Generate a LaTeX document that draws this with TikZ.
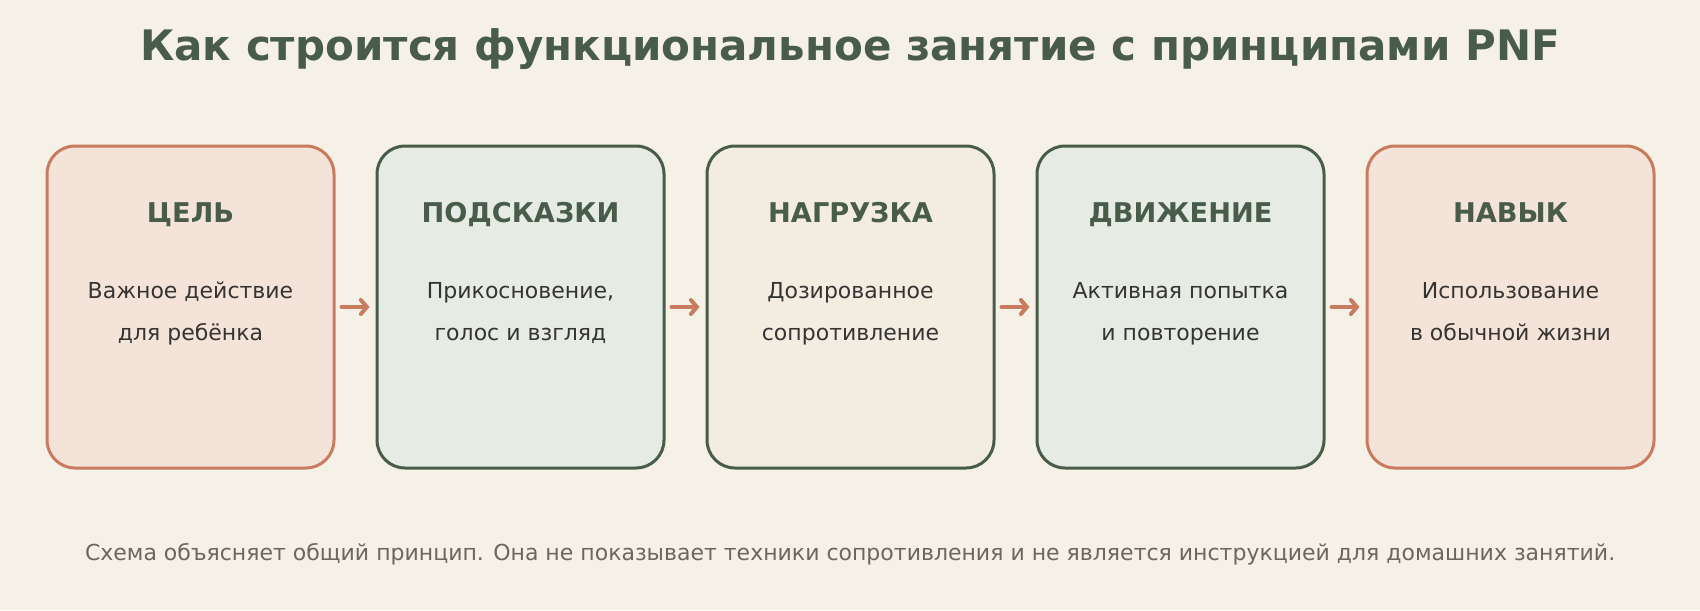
\documentclass[tikz,border=0pt]{standalone}
\usepackage{fontspec}
\setmainfont{DejaVu Sans}
\usepackage{tikz}
\usetikzlibrary{positioning}
\usetikzlibrary{arrows.meta}
\definecolor{bgcol}{HTML}{F6F1E7}
\definecolor{pinkfill}{HTML}{F4E3D8}
\definecolor{greenfill}{HTML}{E6EBE3}
\definecolor{beigefill}{HTML}{F2ECE1}
\definecolor{orangeline}{HTML}{C87B5F}
\definecolor{greenline}{HTML}{485C49}
\definecolor{bodytext}{HTML}{363432}
\definecolor{notetext}{HTML}{6B665F}
\tikzstyle{stepbox}=[rectangle,rounded corners=14pt,line width=1.5pt,minimum width=143.5pt,minimum height=161pt,inner sep=0pt]
\tikzstyle{warmbox}=[stepbox,draw=orangeline,fill=pinkfill]
\tikzstyle{coolbox}=[stepbox,draw=greenline,fill=greenfill]
\tikzstyle{sandbox}=[stepbox,draw=greenline,fill=beigefill]
\tikzstyle{heading} = [anchor=base,font=\fontsize{13.6pt}{16pt}\selectfont\bfseries,text=greenline]
\tikzstyle{bodyline} = [anchor=base,font=\fontsize{11pt}{13pt}\selectfont,text=bodytext]
\tikzstyle{flow} = [draw,orangeline,line width=2pt,line cap=round,-{Straight Barb[length=3pt,width=7pt,line cap=round]},shorten <=3pt,shorten >=3pt]

\begin{document}
\begin{tikzpicture}[x=0.5pt,y=-0.5pt]

    \fill[bgcol] (0,0) rectangle (1700,610);
    \useasboundingbox (0,0) rectangle (1700,610);

    \node[anchor=base,font=\fontsize{21pt}{25pt}\selectfont\bfseries,text=greenline] (title) at (850,61) {Как строится функциональное занятие с принципами PNF};

    \foreach \pos/\name/\kind in {{190.5/goal/warmbox}, {520.5/cue/coolbox}, {850.5/load/sandbox}, {1180.5/move/coolbox}, {1510.5/skill/warmbox}}
        \node[\kind] (\name) at (\pos,307) {};

    \foreach \name/\head/\linea/\lineb in {goal/ЦЕЛЬ/Важное действие/для ребёнка, cue/ПОДСКАЗКИ/{Прикосновение,}/голос и взгляд, load/НАГРУЗКА/Дозированное/сопротивление, move/ДВИЖЕНИЕ/Активная попытка/и повторение, skill/НАВЫК/Использование/в обычной жизни}
    {
        \node[heading] (\name-head) at (\name.center |- 0,222) {\head};
        \node[bodyline] (\name-a) at (\name.center |- 0,298) {\linea};
        \node[bodyline] (\name-b) at (\name.center |- 0,340) {\lineb};
    }

    \foreach \source/\dest in {goal/cue, cue/load, load/move, move/skill}
        \path[flow] (\source) -- (\dest);

    \node[anchor=base,font=\fontsize{11pt}{13pt}\selectfont,text=notetext] (note) at (850,560) {Схема объясняет общий принцип. Она не показывает техники сопротивления и не является инструкцией для домашних занятий.};

\end{tikzpicture}
\end{document}
